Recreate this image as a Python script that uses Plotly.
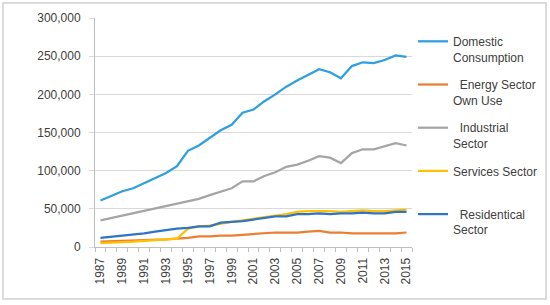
import plotly.graph_objects as go

years = list(range(1987, 2016))
domestic = [61000, 67000, 73000, 77000, 84000, 90000, 97000, 106000, 126000, 133000,
            143000, 153000, 160000, 176000, 180000, 191000, 200000, 210000, 218000, 225000,
            233000, 229000, 221000, 237000, 242000, 241000, 245000, 251000, 249000]
energy = [7000, 7500, 8000, 8000, 9000, 9000, 10000, 11000, 12000, 14000,
          14000, 15000, 15000, 16000, 17000, 18000, 19000, 19000, 19000, 20000,
          21000, 19000, 19000, 18000, 18000, 18000, 18000, 18000, 19000]
industrial = [35000, 38000, 41000, 44000, 48000, 51000, 54000, 57000, 60000, 63000,
              68000, 72000, 77000, 86000, 86000, 93000, 98000, 105000, 108000, 113000,
              119000, 117000, 110000, 123000, 128000, 128000, 132000, 136000, 133000]
services = [5000, 6000, 6500, 7000, 8000, 9000, 10000, 11000, 24000, 27000,
            28000, 31000, 33000, 35000, 37000, 39000, 41000, 43000, 46000, 47000,
            47000, 47000, 46000, 47000, 48000, 47000, 47000, 48000, 49000]
residential = [12000, 13500, 14500, 16000, 18000, 20000, 22000, 24000, 25000, 27000,
               27000, 32000, 33000, 34000, 36000, 38000, 40000, 40000, 43000, 43000,
               44000, 43000, 44000, 44000, 45000, 44000, 44000, 46000, 46000]

names = ["Domestic<br>Consumption", "  Energy Sector<br>Own Use", "  Industrial<br>Sector",
         "Services Sector<br> ", "  Residentical<br>Sector"]
series = [domestic, energy, industrial, services, residential]
colors = ["#2E9FE0", "#ED7D31", "#A5A5A5", "#FFC000", "#2E75C6"]

fig = go.Figure()
for i, (n, s, c) in enumerate(zip(names, series, colors)):
    fig.add_trace(go.Scatter(x=years, y=s, mode="lines", name=n, legendgroup=str(i),
                             line=dict(color=c, width=2.25)))

font = dict(family="Liberation Sans, Arial, sans-serif", size=12, color="#404040")
L, R, T, B = 95, 138, 18, 58
W, H = 550, 305
pw, ph = W - L - R, H - T - B

fig.update_layout(
    width=W, height=H,
    margin=dict(l=L, r=R, t=T, b=B, autoexpand=False),
    paper_bgcolor="white", plot_bgcolor="white",
    font=font,
    showlegend=True,
    legend=dict(x=(413 - L) / pw, y=(H - B - 27) / ph, xanchor="left", yanchor="top",
                font=font, valign="top", tracegroupgap=9, traceorder="grouped",
                bgcolor="rgba(0,0,0,0)"),
    xaxis=dict(range=[1986.5, 2015.5], tickmode="array", tickvals=years[::2],
               ticktext=[str(y) for y in years[::2]], tickangle=-90,
               showgrid=False, showline=True, linecolor="#BFBFBF", linewidth=1,
               ticks="outside", ticklen=5, tickcolor="rgba(0,0,0,0)", zeroline=False,
               minor=dict(tick0=1986.5, dtick=1, ticks="outside", ticklen=4,
                          tickcolor="#BFBFBF", showgrid=False),
               tickfont=font, fixedrange=True, automargin=False),
    yaxis=dict(range=[0, 300000], tickvals=[0, 50000, 100000, 150000, 200000, 250000, 300000],
               tickformat=",", showgrid=True, gridcolor="#D9D9D9", gridwidth=1,
               showline=True, linecolor="#BFBFBF", ticks="outside", ticklen=5,
               tickcolor="#D9D9D9", zeroline=False, tickfont=font, fixedrange=True,
               ticklabelstandoff=6, automargin=False),
    shapes=[dict(type="rect", xref="paper", yref="paper",
                 x0=(3 - L) / pw, x1=(546 - L) / pw,
                 y0=(H - B - 299) / ph, y1=(H - B - 3) / ph,
                 line=dict(color="#CFCFCF", width=1.5), fillcolor="rgba(0,0,0,0)", layer="above")],
)

fig.write_html("out.html", config={"displayModeBar": False},
               post_script="document.body.style.margin='0';")
